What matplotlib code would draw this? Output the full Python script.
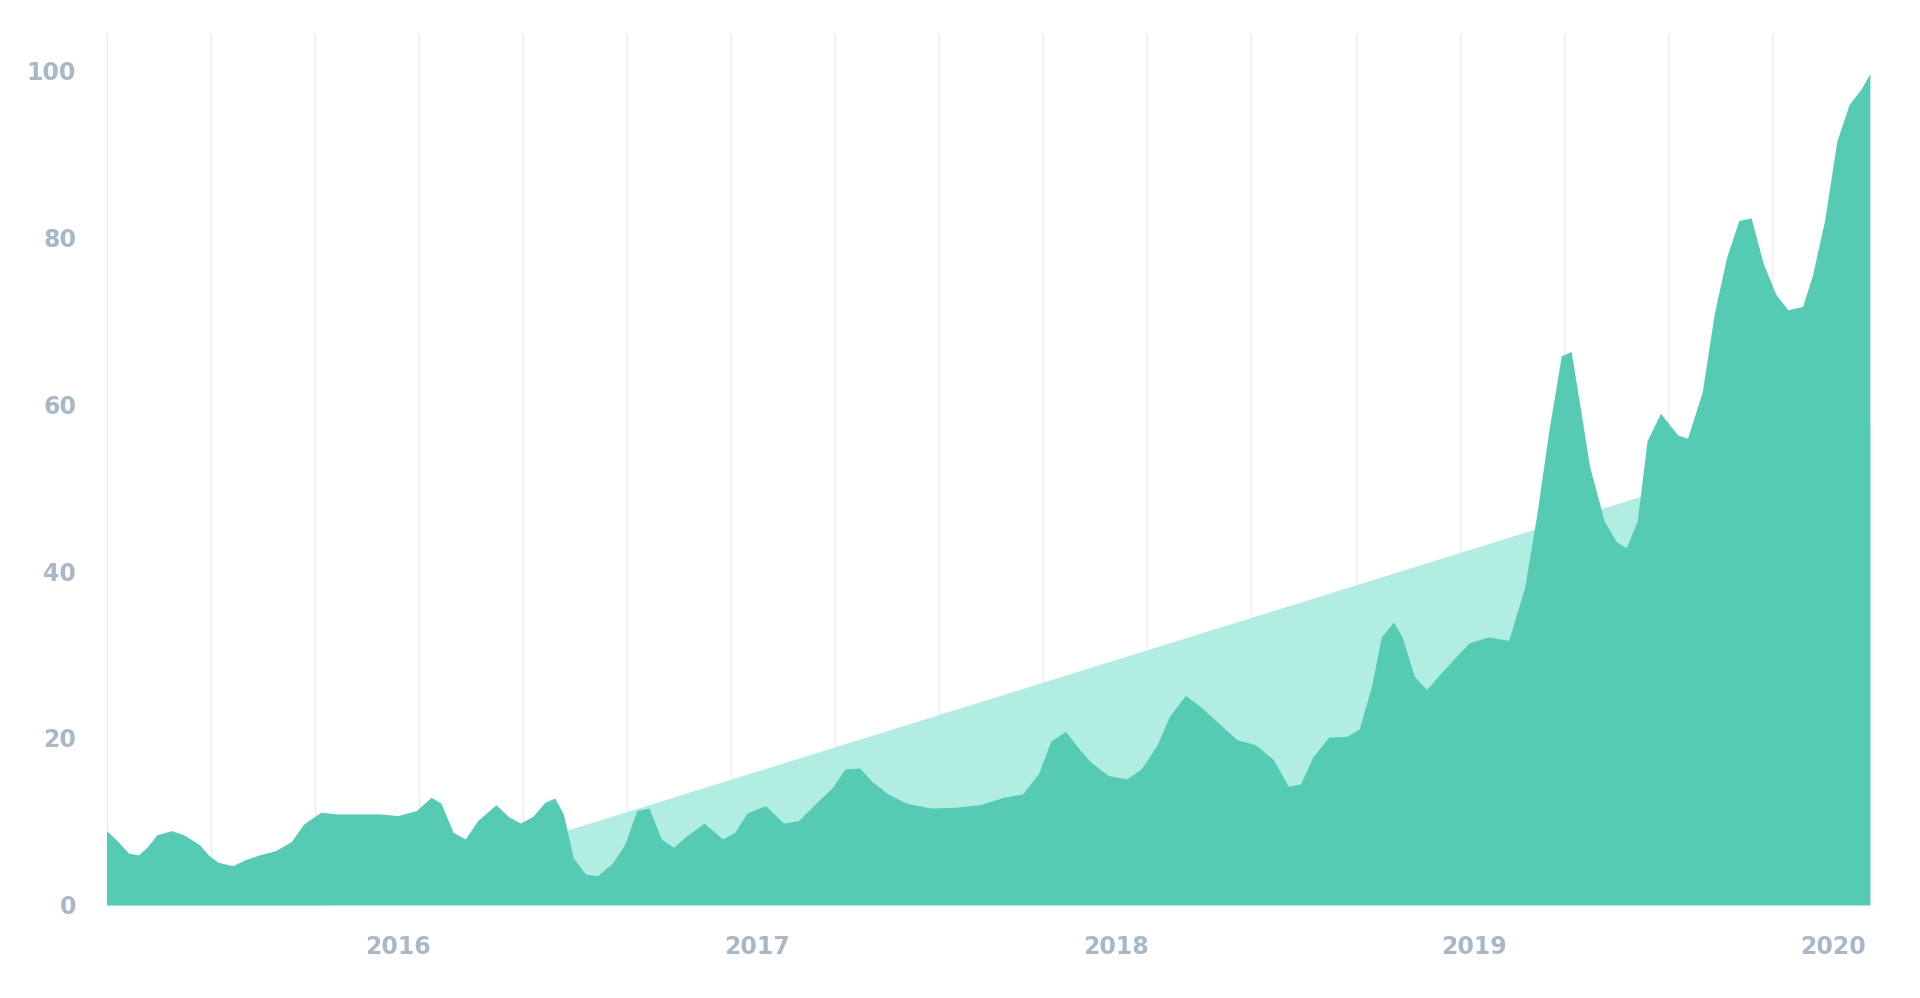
import matplotlib
matplotlib.use("Agg")
import matplotlib.pyplot as plt
import numpy as np

# x positions (fractional years) and interest values
px = [87,95,105,113,120,128,140,150,163,170,178,190,200,212,225,238,248,262,275,290,310,325,340,352,360,370,380,390,405,415,425,435,445,453,460,468,478,488,500,510,520,530,540,550,560,575,590,600,610,625,640,652,665,680,690,702,712,725,740,760,780,800,820,835,848,858,870,880,890,905,920,932,945,955,968,980,995,1010,1025,1040,1052,1062,1072,1085,1100,1110,1120,1128,1138,1145,1155,1165,1178,1190,1200,1215,1232,1245,1255,1265,1275,1283,1290,1298,1310,1320,1328,1337,1345,1356,1370,1378,1390,1400,1410,1420,1430,1440,1450,1460,1472,1480,1490,1500,1510,1520,1527]
values = [8.9,7.8,6.2,6.0,6.9,8.4,8.9,8.4,7.2,6.0,5.1,4.7,5.4,6.0,6.5,7.6,9.7,11.1,10.9,10.9,10.9,10.7,11.3,12.9,12.2,8.7,7.9,10.1,12.0,10.6,9.8,10.6,12.3,12.8,10.9,5.7,3.7,3.5,5.0,7.2,11.3,11.6,7.9,6.9,8.2,9.8,7.9,8.7,11.0,11.9,9.8,10.1,12.0,14.1,16.3,16.4,14.8,13.3,12.2,11.6,11.7,12.0,12.9,13.3,15.7,19.6,20.8,18.9,17.2,15.5,15.1,16.3,19.2,22.6,25.1,23.8,21.8,19.8,19.2,17.4,14.2,14.5,17.7,20.1,20.2,21.1,26.2,32.1,33.9,32.1,27.4,25.8,28.0,29.9,31.4,32.1,31.7,38.0,46.8,57.0,65.8,66.3,60.0,52.6,46.0,43.5,42.8,46.0,55.6,58.9,56.3,55.9,61.4,70.9,77.6,82.0,82.3,76.8,73.2,71.3,71.7,75.4,82.0,91.5,95.9,97.8,99.6]
trend_start = -8.2
trend_end = 57.5
year_ticks = [2016, 2017, 2018, 2019, 2020]
y_ticks = [0, 20, 40, 60, 80, 100]

x = 2016 + (np.array(px) - 325) / 293.0
y = np.array(values)

fig = plt.figure(figsize=(19.2, 9.98), dpi=100)
ax = fig.add_axes([0.0555, 0.0933, 0.9184, 0.8723])

tx = [x[0], x[-1]]
ty = [trend_start, trend_end]
ax.fill_between(tx, 0, ty, color="#b2ede1", lw=0, zorder=1)
ax.fill_between(x, 0, y, color="#56cbb4", lw=0, zorder=2)

for gx in np.arange(x[0], x[-1] + 0.01, 85 / 293.0):
    ax.axvline(gx, ymin=0, ymax=1, color="#ececec", lw=1, zorder=0)

ax.set_xlim(x[0], x[-1])
ax.set_ylim(0, 104.3)
ax.set_xticks(year_ticks)
ax.set_xticklabels([str(v) for v in year_ticks])
ax.set_yticks(y_ticks)
for s in ax.spines.values():
    s.set_visible(False)
ax.tick_params(length=0, colors="#a9b8c6", labelsize=17)
ax.tick_params(axis="x", pad=22)
ax.tick_params(axis="y", pad=22)
for lab in ax.get_xticklabels() + ax.get_yticklabels():
    lab.set_fontweight("bold")
    lab.set_color("#a9b8c6")

fig.savefig("out.png", dpi=100, facecolor="white")
